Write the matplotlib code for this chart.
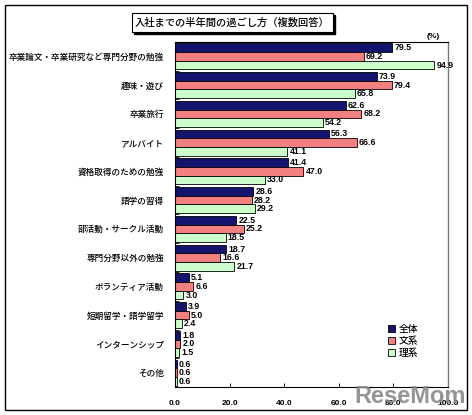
import numpy as np
import matplotlib
matplotlib.use("Agg")
import matplotlib.pyplot as plt
from matplotlib.patches import Rectangle, Patch

plt.rcParams['font.family'] = ['Noto Sans CJK JP', 'DejaVu Sans']

# data
categories = [
    "卒業論文・卒業研究など専門分野の勉強",
    "趣味・遊び",
    "卒業旅行",
    "アルバイト",
    "資格取得のための勉強",
    "語学の習得",
    "部活動・サークル活動",
    "専門分野以外の勉強",
    "ボランティア活動",
    "短期留学・語学留学",
    "インターンシップ",
    "その他",
]
series_names = ["全体", "文系", "理系"]
zentai = [79.5, 73.9, 62.6, 56.3, 41.4, 28.6, 22.5, 18.7, 5.1, 3.9, 1.8, 0.6]
bunkei = [69.2, 79.4, 68.2, 66.6, 47.0, 28.2, 25.2, 16.6, 6.6, 5.0, 2.0, 0.6]
rikei = [94.9, 65.8, 54.2, 41.1, 33.0, 29.2, 18.5, 21.7, 3.0, 2.4, 1.5, 0.6]
x_ticks = [0, 20, 40, 60, 80, 100]

colors = ["#14146e", "#f28080", "#ccffcc"]
W, H = 472, 415

fig = plt.figure(figsize=(W / 100, H / 100), dpi=100)

def fx(px):
    return px / W

def fy(py):
    return 1 - py / H

# outer frame
fig.patches.append(Rectangle((fx(5), fy(410)), fx(462), (405) / H, transform=fig.transFigure,
                             fill=False, edgecolor="black", linewidth=1.0))

# title box with shadow
tx0, tx1, ty0, ty1 = 132, 333, 13, 32
fig.patches.append(Rectangle((fx(tx0 + 2), fy(ty1 + 2)), fx(tx1 - tx0), (ty1 - ty0) / H,
                             transform=fig.transFigure, facecolor="black", edgecolor="black", zorder=1))
fig.patches.append(Rectangle((fx(tx0), fy(ty1)), fx(tx1 - tx0), (ty1 - ty0) / H,
                             transform=fig.transFigure, facecolor="white", edgecolor="black",
                             linewidth=0.8, zorder=2))
fig.text(fx((tx0 + tx1) / 2), fy((ty0 + ty1) / 2), "入社までの半年間の過ごし方（複数回答）",
         ha="center", va="center", fontsize=7.4, weight="medium", zorder=3)

fig.text(fx(433), fy(37), "(%)", ha="center", va="center", fontsize=6,
         family=["Liberation Sans"], weight="bold")

ax = fig.add_axes([fx(175), fy(387), fx(448 - 175), (387 - 42) / H])

n = len(categories)
y = np.arange(n)
bar_h = 0.3
for k, (vals, c) in enumerate(zip([zentai, bunkei, rikei], colors)):
    pos = y + 0.05 + bar_h * k + bar_h / 2
    ax.barh(pos, vals, height=bar_h, color=c, edgecolor="black", linewidth=0.6)
    for p, v in zip(pos, vals):
        ax.text(v + 0.8, p, f"{v:.1f}", va="center", ha="left", fontsize=6.3,
                family=["Liberation Sans"], weight="bold")

ax.set_xlim(0, 100)
ax.set_ylim(n, 0)
ax.set_xticks(x_ticks)
ax.set_xticklabels([f"{t:.1f}" for t in x_ticks], fontsize=6,
                   family=["Liberation Sans"], weight="bold")
ax.tick_params(axis="x", direction="in", length=3, pad=9, width=0.6)

ax.set_yticks(y + 0.5)
ax.set_yticklabels(categories, fontsize=6.2, weight="medium")
ax.tick_params(axis="y", length=0, pad=8)
ax.set_yticks(np.arange(1, n), minor=True)
ax.tick_params(axis="y", which="minor", direction="in", length=3, width=0.6)

for side in ["top", "left", "bottom"]:
    ax.spines[side].set_color("black")
    ax.spines[side].set_linewidth(0.8)
ax.spines["right"].set_color("#777777")
ax.spines["right"].set_linewidth(1.0)

handles = [Patch(facecolor=c, edgecolor="black", linewidth=0.6) for c in colors]
fig.legend(handles, series_names, loc="upper left", bbox_to_anchor=(fx(384), fy(320)),
           frameon=False, fontsize=7, handlelength=0.7, handleheight=0.7,
           handletextpad=0.4, labelspacing=0.2, borderaxespad=0,
           prop={"weight": "medium", "size": 7})

# watermark
fig.text(fx(410), fy(396), "ReseMom", ha="center", va="center", fontsize=17,
         family=["Liberation Sans"], weight="bold", color="#8a8a8a", alpha=0.9)

fig.savefig("out.png", dpi=100)
